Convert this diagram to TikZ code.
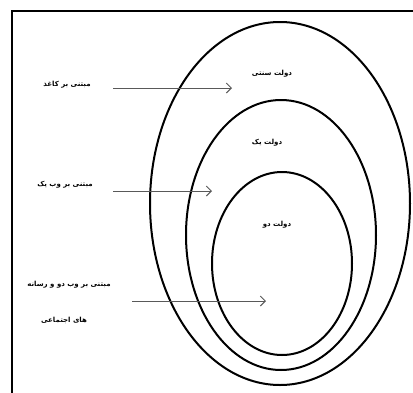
\documentclass[tikz,border=0pt]{standalone}
\usepackage{fontspec}
\usetikzlibrary{arrows.meta}
\TeXXeTstate=1
\newfontfamily\arabicfont[Script=Arabic,BoldFont={DejaVu Sans Bold}]{DejaVu Sans}
\tikzset{
  ring/.style={draw=black, line width=2pt},
  lbl/.style={font=\arabicfont\bfseries\fontsize{7}{8}\selectfont, inner sep=0pt},
  pointer/.style={draw=black!65, line width=1pt, -{Straight Barb[length=5pt,width=10pt]}},
}
\begin{document}
\begin{tikzpicture}[x=1pt,y=-1pt]
\useasboundingbox (0,0) rectangle (413,392);
\clip (0,0) rectangle (413,392);
\fill[white] (0,0) rectangle (413,392);
% frame
\draw[line width=2pt] (12,400) -- (12,11) -- (420,11);
% ellipses
\draw[ring] (280,203.5) ellipse [x radius=130, y radius=181.5];
\draw[ring] (281,235) ellipse [x radius=95, y radius=135];
\draw[ring] (282,263.5) ellipse [x radius=70, y radius=91.5];
% labels in ellipses
\node[lbl] (g0) at (272,74) {\beginR دولت سنتی\endR};
\node[lbl] (g1) at (267,143) {\beginR دولت یک\endR};
\node[lbl] (g2) at (277,225) {\beginR دولت دو\endR};
% side labels
\node[lbl] (s1) at (67,85) {\beginR مبتنی بر کاغذ\endR};
\node[lbl] (s2) at (65,185) {\beginR مبتنی بر وب یک\endR};
\node[lbl] (s3a) at (69,285) {\beginR مبتنی بر وب دو و رسانه\endR};
\node[lbl] (s3b) at (64,320) {\beginR های اجتماعی\endR};
% arrows
\coordinate (a1s) at (113,88);  \coordinate (a1e) at (232,88);
\coordinate (a2s) at (113,191); \coordinate (a2e) at (212,191);
\coordinate (a3s) at (132,301); \coordinate (a3e) at (266,301);
\draw[pointer] (a1s) -- (a1e);
\draw[pointer] (a2s) -- (a2e);
\draw[pointer] (a3s) -- (a3e);
\end{tikzpicture}
\end{document}
